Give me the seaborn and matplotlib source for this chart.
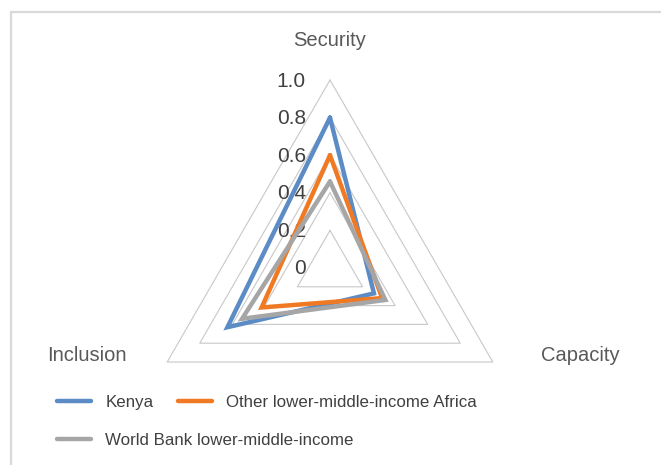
import numpy as np
import matplotlib
matplotlib.use("Agg")
import matplotlib.pyplot as plt
import seaborn as sns
from matplotlib.lines import Line2D

categories = ["Security", "Capacity", "Inclusion"]
kenya = [0.80, 0.27, 0.63]
other_lmi_africa = [0.60, 0.32, 0.42]
wb_lmi = [0.46, 0.34, 0.54]
series_names = ["Kenya", "Other lower-middle-income Africa", "World Bank lower-middle-income"]
series_values = [kenya, other_lmi_africa, wb_lmi]
series_colors = ["#5b8cc6", "#f07a24", "#a6a6a6"]
ticks = [0.2, 0.4, 0.6, 0.8, 1.0]
tick_labels = ["0", "0.2", "0.4", "0.6", "0.8", "1.0"]

sns.set_style("white")
plt.rcParams["font.family"] = ["Liberation Sans", "DejaVu Sans"]

W, H = 661, 465
fig = plt.figure(figsize=(W / 100, H / 100), dpi=100)

cx, cy, R = 330, 268, 188
ax = fig.add_axes([(cx - R) / W, (H - cy - R) / H, 2 * R / W, 2 * R / H], projection="polar")
ax.set_theta_zero_location("N")
ax.set_theta_direction(-1)
ax.set_ylim(0, 1)
ax.grid(False)
ax.spines["polar"].set_visible(False)
ax.set_xticks([])
ax.set_yticks([])
ax.set_facecolor("none")

angles = np.linspace(0, 2 * np.pi, len(categories), endpoint=False)
closed = np.append(angles, angles[0])

# triangular grid
for r in ticks:
    ax.plot(closed, [r] * len(closed), color="#c8c8c8", lw=0.8, clip_on=False, zorder=1)

for name, vals, col in zip(series_names, series_values, series_colors):
    sns.lineplot(x=closed, y=np.append(vals, vals[0]), ax=ax, sort=False, estimator=None,
                 color=col, lw=3.2, label=name, zorder=3)
    ax.lines[-1].set_solid_joinstyle("miter")
ax.get_legend().remove()

# radial tick labels
for r, lab in zip([0] + ticks, tick_labels):
    ax.annotate(lab, xy=(0, r), xytext=(-24, -1), textcoords="offset pixels",
                ha="right", va="center", fontsize=15, color="#404040", zorder=2)

# category labels
label_pos = [(330, 41), (580, 355), (87, 355)]
for cat, (px, py) in zip(categories, label_pos):
    fig.text(px / W, 1 - py / H, cat, ha="center", va="center", fontsize=14.5, color="#595959")

# legend, flowed like the original
handles, labels = ax.get_legend_handles_labels()
for h in handles:
    h.set_solid_capstyle("round")
kw = dict(frameon=False, fontsize=12.2, handlelength=2.0, handletextpad=0.85,
          borderpad=0, borderaxespad=0, labelcolor="#404040")
leg1 = fig.legend(handles[:2], labels[:2], ncol=2, loc="center left", columnspacing=1.45,
                  bbox_to_anchor=(57 / W, 1 - 402 / H), **kw)
leg2 = fig.legend(handles[2:], labels[2:], loc="center left",
                  bbox_to_anchor=(57 / W, 1 - 440 / H), **kw)

# chart frame border
fig.add_artist(Line2D([11 / W, 1], [1 - 12.5 / H] * 2, transform=fig.transFigure, color="#d9d9d9", lw=1.6))
fig.add_artist(Line2D([11 / W] * 2, [0, 1 - 12.5 / H], transform=fig.transFigure, color="#d9d9d9", lw=1.6))

fig.savefig("out.png", dpi=100)
